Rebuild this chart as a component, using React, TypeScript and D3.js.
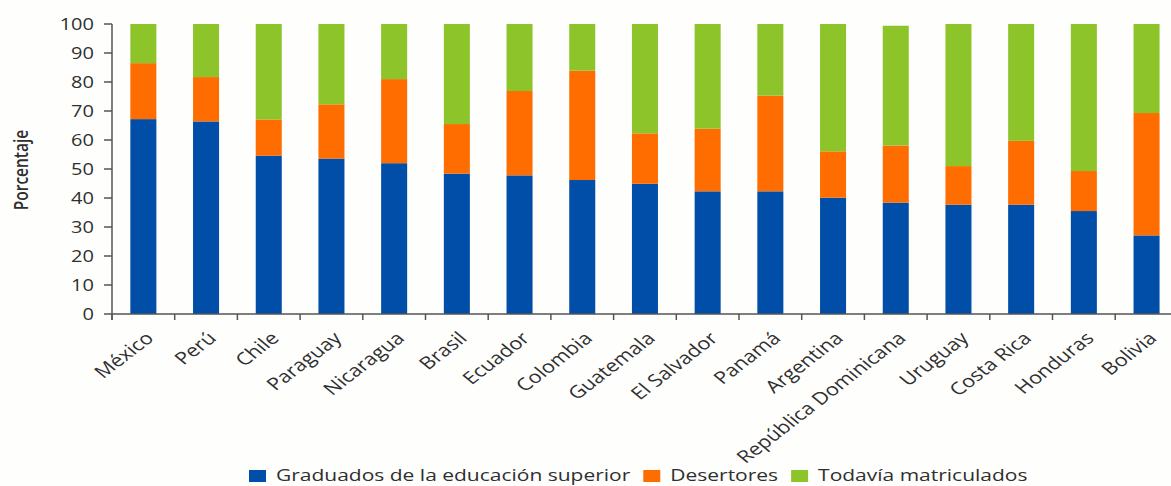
import React, { useEffect, useRef } from "react";
import * as d3 from "d3";

const countries = ["México", "Perú", "Chile", "Paraguay", "Nicaragua", "Brasil", "Ecuador", "Colombia", "Guatemala", "El Salvador", "Panamá", "Argentina", "República Dominicana", "Uruguay", "Costa Rica", "Honduras", "Bolivia"];
const graduados = [67.2, 66.4, 54.6, 53.6, 52.0, 48.4, 47.8, 46.2, 44.9, 42.3, 42.3, 40.1, 38.4, 37.7, 37.7, 35.5, 27.1];
const desertores = [19.3, 15.3, 12.5, 18.7, 29.0, 17.1, 29.1, 37.7, 17.4, 21.6, 33.0, 16.0, 19.7, 13.3, 22.0, 13.8, 42.2];
const matriculados = [13.5, 18.3, 32.9, 27.7, 19.0, 34.5, 23.1, 16.1, 37.7, 36.1, 24.7, 43.9, 41.3, 49.0, 40.3, 50.7, 30.7];
const seriesNames = ["Graduados de la educación superior", "Desertores", "Todavía matriculados"];
const seriesColors = ["#004ea8", "#ff6c00", "#8dc42a"];
const yTicks = [0, 10, 20, 30, 40, 50, 60, 70, 80, 90, 100];
const yTitle = "Porcentaje";

const W = 1171, H = 486;
const SX = 1.25;
const FONT = "'Open Sans', 'Noto Sans', sans-serif";
const TXT = "#2f2f2f";
const AX = "#555555";

export default function App() {
  const ref = useRef<SVGSVGElement>(null);
  useEffect(() => {
    const svg = d3.select(ref.current);
    svg.selectAll("*").remove();
    const x0 = 112, step = 62.7;
    const x = d3.scaleBand<string>().domain(countries).range([x0, x0 + step * countries.length]).paddingInner(0.585).paddingOuter(0.2925);
    const y = d3.scaleLinear().domain([0, 100]).range([314, 24]);

    const rows = countries.map((c, i) => ({ c, g: graduados[i], d: desertores[i], m: matriculados[i] }));
    const stack = d3.stack<any>().keys(["g", "d", "m"]);
    const layers = stack(rows);

    const g = svg.append("g");
    layers.forEach((layer, li) => {
      g.append("g").selectAll("rect").data(layer).join("rect")
        .attr("x", (d: any) => x(d.data.c)!)
        .attr("width", x.bandwidth())
        .attr("y", (d: any) => y(d[1]))
        .attr("height", (d: any) => y(d[0]) - y(d[1]))
        .attr("fill", seriesColors[li]);
    });

    // y axis
    g.append("line").attr("x1", x0).attr("x2", x0).attr("y1", y(100)).attr("y2", y(0) + 6).attr("stroke", AX).attr("stroke-width", 1.5);
    yTicks.forEach(t => {
      g.append("line").attr("x1", x0 - 8).attr("x2", x0).attr("y1", y(t)).attr("y2", y(t)).attr("stroke", AX).attr("stroke-width", 1.5);
      g.append("text").attr("transform", `translate(94,${y(t)}) scale(${SX},1)`)
        .attr("text-anchor", "end").attr("dy", "0.36em")
        .attr("font-family", FONT).attr("font-size", 16).attr("fill", TXT).text(String(t));
    });
    // x axis
    g.append("line").attr("x1", x0).attr("x2", W).attr("y1", y(0)).attr("y2", y(0)).attr("stroke", AX).attr("stroke-width", 1.5);
    countries.forEach((c, i) => {
      const bx = x0 + i * step;
      g.append("line").attr("x1", bx).attr("x2", bx).attr("y1", y(0)).attr("y2", y(0) + 6).attr("stroke", AX).attr("stroke-width", 1.5);
      const cx = x(c)! + x.bandwidth() / 2;
      g.append("text").attr("transform", `translate(${cx + 6},${y(0) + 21}) scale(${SX},1) rotate(-44)`)
        .attr("text-anchor", "end").attr("dy", "0.36em")
        .attr("font-family", FONT).attr("font-size", 17.3).attr("fill", TXT).text(c);
    });
    // y title
    g.append("text").attr("transform", `translate(28,170) scale(${SX},1) rotate(-90)`)
      .attr("text-anchor", "middle").attr("font-family", FONT).attr("font-size", 15.5).attr("font-weight", 600)
      .attr("fill", TXT).text(yTitle);

    // legend
    let lx = 249;
    seriesNames.forEach((n, i) => {
      g.append("rect").attr("x", lx).attr("y", 470).attr("width", 17).attr("height", 12).attr("fill", seriesColors[i]);
      const t = g.append("text").attr("transform", `translate(${lx + 27},481) scale(${SX},1)`)
        .attr("font-family", FONT).attr("font-size", 16.8).attr("fill", TXT).text(n);
      const len = (t.node() as SVGTextElement).getComputedTextLength() * SX;
      lx += 27 + len + 13;
    });
  }, []);
  return (
    <svg ref={ref} width={W} height={H} style={{ position: "absolute", left: 0, top: 0, background: "#fefefd" }} />
  );
}
